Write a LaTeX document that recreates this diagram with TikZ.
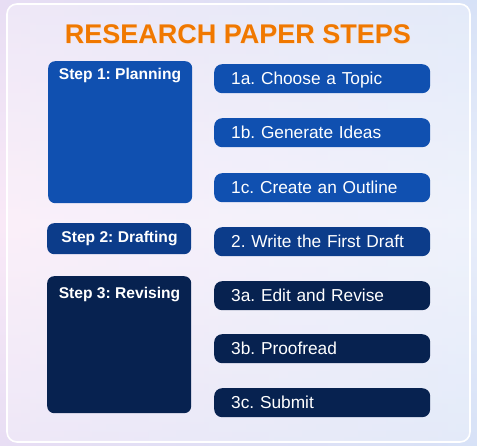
\documentclass[tikz,border=0pt]{standalone}
\usepackage{fontspec}
\setmainfont{Liberation Sans}
\frenchspacing
\definecolor{bgpink}{HTML}{F4D4F0}
\definecolor{bgblue}{HTML}{DDE8F8}
\definecolor{bglav}{HTML}{D2DCF6}
\definecolor{titleor}{HTML}{F07800}
\definecolor{cone}{HTML}{1050B0}
\definecolor{ctwo}{HTML}{0C3C8A}
\definecolor{cthree}{HTML}{072250}
\begin{document}
\begin{tikzpicture}[x=1pt,y=-1pt,
  stepbox/.style={rounded corners=7pt, inner sep=0pt, minimum width=144pt, anchor=north west},
  itembox/.style={rounded corners=8pt, anchor=north west, minimum height=29pt, inner ysep=0pt,
    inner xsep=17pt, text width=182pt, align=left, text=white, text height=12.4pt, text depth=-1pt,
    font=\fontsize{17.3}{19}\selectfont},
  steplabel/.style={text=white, font=\bfseries\fontsize{15.6}{17}\selectfont, inner sep=0pt}]
\useasboundingbox (0,0) rectangle (477,446);
% background
\shade[left color=bgpink, right color=bglav] (0,0) rectangle (477,446);
\shade[top color=bgblue, bottom color=bgblue, middle color=white, opacity=0.5] (0,0) rectangle (477,446);
% panel
\fill[white, opacity=0.3, rounded corners=10pt] (7,4) rectangle (470,442);
\draw[white, line width=1.6pt, rounded corners=10pt] (7,4) rectangle (470,442);
% title
\node[text=white!70!titleor, opacity=0.5, font=\bfseries\fontsize{27}{30}\selectfont] (glow) at (238.5,35.5) {RESEARCH PAPER STEPS};
\node[text=titleor, font=\bfseries\fontsize{27}{30}\selectfont] (title) at (238,34) {RESEARCH PAPER STEPS};
% step boxes
\node[stepbox, fill=cone, minimum height=142pt] (s1) at (48,61) {};
\node[stepbox, fill=ctwo, minimum height=31pt] (s2) at (47,223) {};
\node[stepbox, fill=cthree, minimum height=137pt] (s3) at (47,276) {};
\node[steplabel, anchor=base] (s1t) at (120,80) {Step 1: Planning};
\node[steplabel] (s2t) at (119.5,238.5) {Step 2: Drafting};
\node[steplabel, anchor=base] (s3t) at (119.5,299) {Step 3: Revising};
% item boxes
\node[itembox, fill=cone] (i1a) at (214,64) {1a. Choose a Topic};
\node[itembox, fill=cone] (i1b) at (214,118) {1b. Generate Ideas};
\node[itembox, fill=cone] (i1c) at (214,173) {1c. Create an Outline};
\node[itembox, fill=ctwo] (i2) at (214,227) {2. Write the First Draft};
\node[itembox, fill=cthree] (i3a) at (214,281) {3a. Edit and Revise};
\node[itembox, fill=cthree] (i3b) at (214,334) {3b. Proofread};
\node[itembox, fill=cthree] (i3c) at (214,388) {3c. Submit};
\end{tikzpicture}
\end{document}
